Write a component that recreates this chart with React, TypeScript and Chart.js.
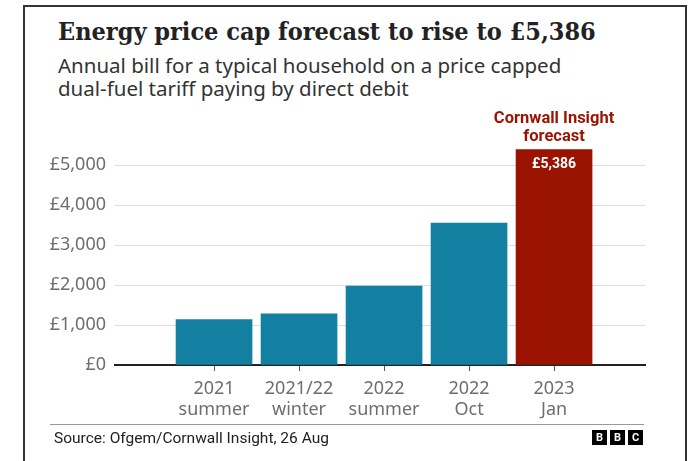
import React, { useEffect, useRef } from "react";
import { Chart, registerables } from "chart.js";

Chart.register(...registerables);

// ---- data ----
const categories: string[][] = [
  ["2021", "summer"],
  ["2021/22", "winter"],
  ["2022", "summer"],
  ["2022", "Oct"],
  ["2023", "Jan"],
];
const bills: number[] = [1138, 1277, 1971, 3549, 5386];
const yTickValues: number[] = [0, 1000, 2000, 3000, 4000, 5000];
const forecastIndex = 4;
const forecastLabel: string[] = ["Cornwall Insight", "forecast"];

const TITLE = "Energy price cap forecast to rise to £5,386";
const SUBTITLE_LINES = [
  "Annual bill for a typical household on a price capped",
  "dual-fuel tariff paying by direct debit",
];
const SOURCE = "Source: Ofgem/Cornwall Insight, 26 Aug";

// ---- style ----
const BLUE = "#1380A1";
const RED = "#9A1300";
const SANS = "Roboto, 'Noto Sans', sans-serif";
const NOTO = "'Noto Sans', Roboto, sans-serif";
const fmt = (v: number) => "£" + v.toLocaleString("en-GB");

const annotationPlugin = {
  id: "forecastAnnotation",
  afterDatasetsDraw(chart: any) {
    const ctx = chart.ctx;
    const bar = chart.getDatasetMeta(0).data[forecastIndex];
    if (!bar) return;
    ctx.save();
    ctx.textAlign = "center";
    ctx.textBaseline = "middle";
    ctx.fillStyle = "#ffffff";
    ctx.font = `bold 14px ${SANS}`;
    ctx.fillText(fmt(bills[forecastIndex]), bar.x, bar.y + 15);
    ctx.fillStyle = RED;
    ctx.font = `bold 16.5px ${SANS}`;
    ctx.fillText(forecastLabel[0], bar.x, bar.y - 31);
    ctx.fillText(forecastLabel[1], bar.x, bar.y - 13);
    ctx.restore();
  },
};

function BarChart() {
  const ref = useRef<HTMLCanvasElement>(null);
  useEffect(() => {
    if (!ref.current) return;
    const chart = new Chart(ref.current, {
      type: "bar",
      data: {
        datasets: [
          {
            data: bills.map((v, i) => ({ x: i, y: v })) as any,
            backgroundColor: bills.map((_, i) => (i === forecastIndex ? RED : BLUE)),
            barThickness: 76,
            borderWidth: 0,
          },
        ],
      },
      options: {
        responsive: false,
        animation: false,
        layout: { padding: { left: 0, right: 44, top: 145, bottom: 0 } },
        plugins: {
          legend: { display: false },
          tooltip: { enabled: false },
        },
        scales: {
          x: {
            type: "linear",
            offset: false,
            min: -1.165,
            max: 5.07,
            afterBuildTicks: (scale: any) => {
              scale.ticks = categories.map((_, i) => ({ value: i }));
            },
            afterFit: (scale: any) => {
              scale.height = 96;
            },
            grid: {
              display: true,
              offset: false,
              drawOnChartArea: false,
              drawTicks: true,
              tickLength: 6,
              color: "#555",
              lineWidth: 1,
            },
            border: { display: true, color: "#222", width: 2 },
            ticks: {
              autoSkip: false,
              maxRotation: 0,
              padding: 8,
              color: "#6e6e6e",
              font: { family: NOTO, size: 18, lineHeight: 1.15 },
              callback: (v: any) => categories[v as number] ?? "",
            },
          },
          y: {
            min: 0,
            max: 5500,
            afterBuildTicks: (scale: any) => {
              scale.ticks = yTickValues.map((v) => ({ value: v }));
            },
            afterFit: (scale: any) => {
              scale.width = 115;
            },
            grid: { color: "#dddddd", lineWidth: 1, drawTicks: false },
            border: { display: false },
            ticks: {
              padding: 9,
              color: "#6e6e6e",
              font: { family: NOTO, size: 18 },
              callback: (v: any) => fmt(v as number),
            },
          },
        },
      } as any,
      plugins: [annotationPlugin],
    });
    return () => chart.destroy();
  }, []);
  return (
    <canvas
      ref={ref}
      width={689}
      height={461}
      style={{ position: "absolute", left: 0, top: 0, width: 689, height: 461 }}
    />
  );
}

export default function App() {
  return (
    <div
      style={{
        position: "absolute",
        left: 0,
        top: 0,
        width: 689,
        height: 461,
        overflow: "hidden",
        background: "#fff",
      }}
    >
      <div
        style={{
          position: "absolute",
          left: 23,
          top: 5,
          width: 660,
          height: 470,
          borderTop: "2px solid #333",
          borderLeft: "2px solid #333",
          borderRight: "2px solid #333",
        }}
      />
      <div
        style={{
          position: "absolute",
          left: 58,
          top: 17,
          font: "bold 25px 'DejaVu Serif', serif",
          fontStretch: "condensed",
          lineHeight: "30px",
          color: "#222",
          whiteSpace: "nowrap",
        }}
      >
        {TITLE}
      </div>
      <div
        style={{
          position: "absolute",
          left: 58,
          top: 54,
          font: `20.5px ${NOTO}`,
          lineHeight: "23px",
          color: "#333",
          whiteSpace: "nowrap",
        }}
      >
        {SUBTITLE_LINES.map((l, i) => (
          <div key={i}>{l}</div>
        ))}
      </div>
      <BarChart />
      <div
        style={{
          position: "absolute",
          left: 50,
          top: 424,
          width: 594,
          height: 0,
          borderTop: "1px solid #999",
        }}
      />
      <div
        style={{
          position: "absolute",
          left: 54,
          top: 429,
          font: `15.5px ${SANS}`,
          lineHeight: "18px",
          color: "#222",
          whiteSpace: "nowrap",
        }}
      >
        {SOURCE}
      </div>
      <div style={{ position: "absolute", left: 592, top: 430, display: "flex", gap: 3 }}>
        {["B", "B", "C"].map((c, i) => (
          <div
            key={i}
            style={{
              width: 15,
              height: 15,
              background: "#000",
              color: "#fff",
              font: `bold 11px ${SANS}`,
              lineHeight: "15px",
              textAlign: "center",
            }}
          >
            {c}
          </div>
        ))}
      </div>
    </div>
  );
}
